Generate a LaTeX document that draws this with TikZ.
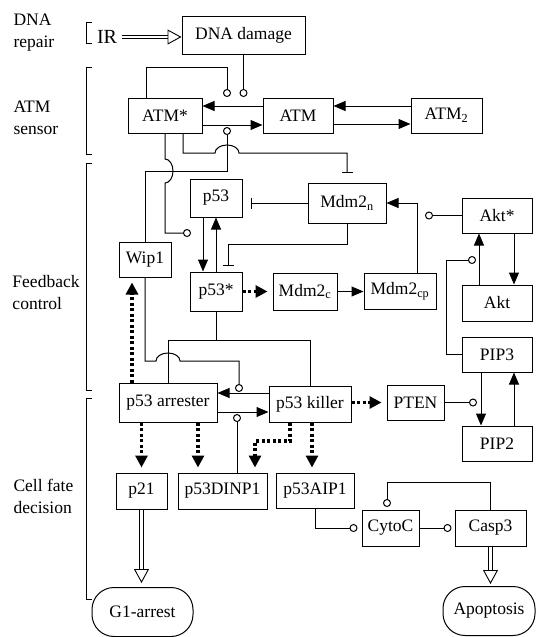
\documentclass[tikz,border=0pt]{standalone}
\usepackage{fontspec}
\setmainfont{Liberation Serif}
\usetikzlibrary{arrows.meta}

\begin{document}
\begin{tikzpicture}[
   x=1pt,
   y=-1pt,
   font=\fontsize{17.5}{20}\selectfont,
   >={Triangle[length=12pt,width=10pt]},
   line width=1pt,
   block/.style={
      draw,
      inner sep=0pt,
      minimum height=36pt
   },
   fate/.style={
      draw,
      rounded corners=22pt,
      minimum height=49pt,
      inner sep=0pt
   },
   stage/.style={
      anchor=west,
      align=left,
      inner sep=0pt,
      font=\fontsize{17.5}{22}\selectfont
   },
   regul/.style={-{Circle[open,length=8pt,width=8pt]}},
   tbar/.style={-{Bar[width=11pt]}},
   dotarrow/.style={
      -{Triangle[length=12pt,width=12pt]},
      line width=3.5pt,
      dash pattern=on 3pt off 2.5pt,
      shorten >=5pt
   },
   dbl/.style={
      double,
      double distance=2.5pt,
      line width=0.9pt,
      -{Triangle[open,length=14pt,width=15pt]}
   }
]

   \useasboundingbox (0,0) rectangle (537,637);

   % Stage labels and brackets
   \node[stage] (lblrepair) at (13,33) {DNA\\repair};
   \node[stage] (lblsensor) at (13,118) {ATM\\sensor};
   \node[stage] (lblcontrol) at (12,293) {Feedback\\control};
   \node[stage] (lbldecision) at (13,496) {Cell fate\\decision};

   \draw (92,22) -- (86,22) -- (86,43) -- (92,43);
   \draw (92,67) -- (86,67) -- (86,154) -- (92,154);
   \draw (92,163) -- (86,163) -- (86,390) -- (92,390);
   \draw (92,398) -- (86,398) -- (86,599) -- (92,599);

   % DNA repair
   \node[inner sep=4pt, font=\fontsize{20}{22}\selectfont] (ir) at (107,37) {IR};

   \node[block, minimum width=123pt, minimum height=38pt] (dna) at (243.5,35) {DNA damage};

   \draw[dbl] (ir.east) -- (ir.east -| dna.west);

   % ATM sensor
   \node[block, minimum width=74pt, minimum height=35pt] (atms) at (165,115.5) {ATM*};
   \node[block, minimum width=70pt, minimum height=35pt] (atm) at (298,115.5) {ATM};
   \node[block, minimum width=71pt, minimum height=35pt] (atm2) at (446.5,115.5) {ATM\textsubscript{2}};

   \draw[->] (atm.west |- 0,106) -- (atms.east |- 0,106);
   \draw[->] (atms.east |- 0,125) -- (atm.west |- 0,125);
   \draw[->] (atm2.west |- 0,106) -- (atm.east |- 0,106);
   \draw[->] (atm.east |- 0,124) -- (atm2.west |- 0,124);

   \draw[regul] (dna.south) -- (dna.south |- 0,97);
   \draw[regul] (atms.north -| 146,0) -- (146,67) -| (227,97);

   % Feedback control
   \node[block, minimum width=52pt, minimum height=38pt] (p53) at (216,198) {p53};
   \node[block, minimum width=78pt, minimum height=40pt] (mdmn) at (347,203) {Mdm2\textsubscript{n}};
   \node[block, minimum width=70pt, minimum height=35pt] (akts) at (497,215.5) {Akt*};
   \node[block, minimum width=52pt, minimum height=35pt] (wip) at (145,259.5) {Wip1};
   \node[block, minimum width=52pt, minimum height=39pt] (p53s) at (216,291.5) {p53*};
   \node[block, minimum width=64pt, minimum height=37pt] (mdmc) at (305,291.5) {Mdm2\textsubscript{c}};
   \node[block, minimum width=72pt, minimum height=36pt] (mdmcp) at (400,291.5) {Mdm2\textsubscript{cp}};
   \node[block, minimum width=70pt, minimum height=36pt] (akt) at (497,303) {Akt};
   \node[block, minimum width=70pt, minimum height=35pt] (pip3) at (497,354.5) {PIP3};

   % Wip1 acts on ATM activation
   \draw[regul] (wip.north) -- (145,171) -- (227,171) -- (227,127);

   % ATM* inhibits nuclear Mdm2
   \draw[tbar] (atms.south -| 183,0) -- (183,153) -- (215,153)
      arc (180:360:12 and 8) -- (347,153) -- (347,173);

   % ATM* acts on p53 activation
   \draw[regul] (atms.south) -- (165,159) arc (-90:90:8 and 12)
      -- (165,233) -- (191,233);

   \draw[tbar] (mdmn.west) -- (251,203);
   \draw[tbar] (mdmn.south) -- (347,244) -| (228,266);

   \draw[->] (p53.south -| 203,0) -- (p53s.north -| 203,0);
   \draw[->] (p53s.north) -- (p53.south);

   \draw[dotarrow] (p53s.east) -- (mdmc.west);
   \draw[->] (mdmc.east) -- (mdmcp.west);
   \draw[->] (mdmcp.north -| 417,0) |- (mdmn.east);

   \draw[regul] (akts.west) -- (425,215.5);
   \draw[->] (akt.north -| 479,0) -- (akts.south -| 479,0);
   \draw[->] (akts.south -| 514,0) -- (akt.north -| 514,0);

   \draw[regul] (pip3.west) -| (446,260) -- (476,260);

   % Cell fate decision
   \node[block, minimum width=98pt, minimum height=39pt] (arr) at (168,402.5) {p53 arrester};
   \node[block, minimum width=82pt, minimum height=36pt] (kil) at (310,404) {p53 killer};
   \node[block, minimum width=57pt, minimum height=35pt] (pten) at (415.5,402.5) {PTEN};
   \node[block, minimum width=70pt, minimum height=35pt] (pip2) at (497,443.5) {PIP2};
   \node[block, minimum width=51pt] (p21) at (141.5,491) {p21};
   \node[block, minimum width=89pt] (dinp) at (222.5,491) {p53DINP1};
   \node[block, minimum width=78pt, minimum height=35pt] (aip) at (315,490.5) {p53AIP1};
   \node[block, minimum width=57pt] (cytc) at (390.5,528) {CytoC};
   \node[block, minimum width=71pt] (casp) at (490.5,528) {Casp3};

   \node[fate, minimum width=101pt] (g1) at (142.5,612) {G1-arrest};
   \node[fate, minimum width=92pt] (apo) at (489,611) {Apoptosis};

   \draw[->] (pip3.south -| 481,0) -- (pip2.north -| 481,0);
   \draw[->] (pip2.north -| 514,0) -- (pip3.south -| 514,0);

   \draw[regul] (pten.east) -- (477,402.5);
   \draw[dotarrow] (kil.east |- pten.west) -- (pten.west);

   % p53* to the two p53 states
   \draw (p53s.south) -- (216,340);
   \draw (arr.north) |- (kil.north |- 0,340) -- (kil.north);

   % Wip1 acts on the killer to arrester switch
   \draw[regul] (wip.south) -- (145,361) -- (156,361)
      arc (180:360:12 and 8) -- (239,361) -- (239,392);

   \draw[dotarrow] (arr.north -| 132,0) -- (wip.south -| 132,0);

   \draw[->] (kil.west |- 0,393) -- (arr.east |- 0,393);
   \draw[->] (arr.east |- 0,412) -- (kil.west |- 0,412);
   \draw[regul] (dinp.north -| 237,0) -- (237,414);

   \draw[dotarrow] (arr.south -| p21.north) -- (p21.north);
   \draw[dotarrow] (arr.south -| 198,0) -- (dinp.north -| 198,0);
   \draw[dotarrow] (kil.south -| 290,0) -- (290,441) -- (255,441) -- (dinp.north -| 255,0);
   \draw[dotarrow] (kil.south -| 312,0) -- (aip.north -| 312,0);

   \draw[dbl, shorten >=4pt] (p21.south) -- (p21.south |- g1.north);

   \draw[regul] (aip.south) |- ([xshift=-4pt]cytc.west);
   \draw[regul] (cytc.east) -- ([xshift=-3pt]casp.west);
   \draw[regul] (casp.north) -- (490.5,482) -| (387,507);

   \draw[dbl, shorten >=2pt] (casp.south) -- (casp.south |- apo.north);

\end{tikzpicture}
\end{document}
